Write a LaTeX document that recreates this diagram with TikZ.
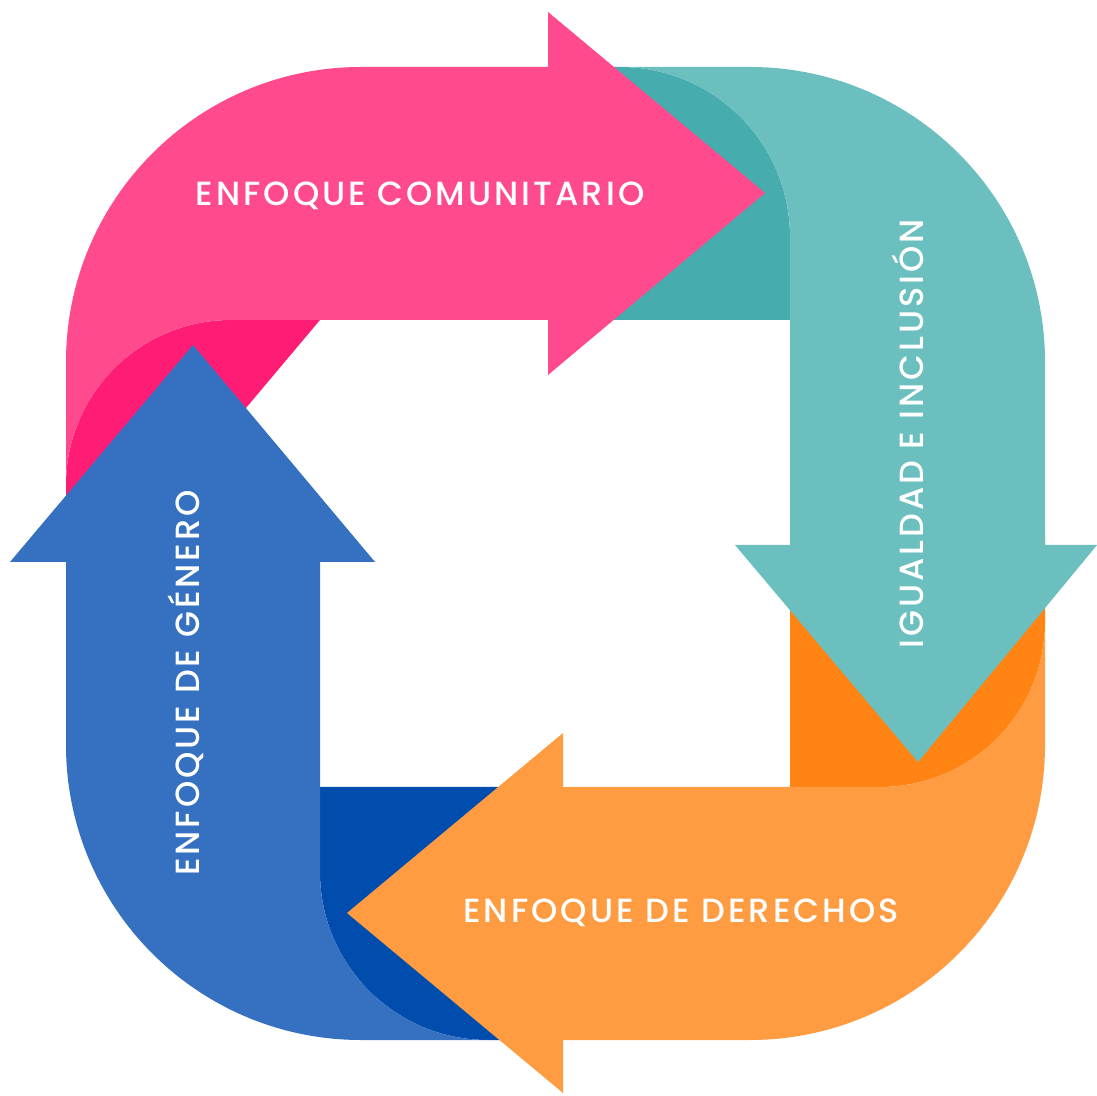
\documentclass[tikz,border=0pt]{standalone}
\usepackage{fontspec}
\setmainfont{Poppins}[UprightFont=* Medium, LetterSpace=9]
\definecolor{pinkL}{HTML}{FF4A8D}
\definecolor{pinkD}{HTML}{FF1C75}
\definecolor{tealL}{HTML}{6BBFBF}
\definecolor{tealD}{HTML}{47ACAE}
\definecolor{orangeL}{HTML}{FF9C42}
\definecolor{orangeD}{HTML}{FF8414}
\definecolor{blueL}{HTML}{3571C0}
\definecolor{blueD}{HTML}{004DAE}
\tikzset{lbl/.style={text=white, inner sep=0pt, anchor=base,
  font=\fontsize{33.5}{40}\selectfont}}
\begin{document}
\begin{tikzpicture}[x=1pt,y=1pt]
\useasboundingbox (0,0) rectangle (1097,1095);
% dark inner pieces
\fill [pinkD] (66,610) arc[start angle=180,end angle=90,radius=165] -- (320,775) -- (66,473) -- cycle;
\fill [tealD] (560,1028) -- (620,1028) arc[start angle=90,end angle=0,radius=170] -- (790,775) -- (560,775) -- cycle;
\fill [orangeD] (790,308) -- (880,308) arc[start angle=-90,end angle=0,radius=165] -- (1045,560) -- (790,560) -- cycle;
\fill [blueD] (320,308) -- (510,308) -- (510,55) -- (488,55) arc[start angle=270,end angle=180,radius=168] -- cycle;

% bands
\fill [pinkL] (548,1028) -- (361,1028) arc[start angle=90,end angle=180,radius=295] -- (66,610)
  arc[start angle=180,end angle=90,radius=165] -- (548,775) -- cycle;
\fill [tealL] (620,1028) -- (750,1028) arc[start angle=90,end angle=0,radius=295] -- (1045,550) -- (790,550)
  -- (790,858) arc[start angle=0,end angle=90,radius=170] -- cycle;
\fill [orangeL] (563,55) -- (750,55) arc[start angle=-90,end angle=0,radius=295] -- (1045,473)
  arc[start angle=0,end angle=-90,radius=165] -- (563,308) -- cycle;
\fill [blueL] (66,533) -- (66,350) arc[start angle=180,end angle=270,radius=295] -- (488,55)
  arc[start angle=270,end angle=180,radius=168] -- (320,533) -- cycle;

% arrow heads
\fill [pinkL] (548,1083) -- (765,902) -- (548,720) -- cycle;
\fill [tealL] (735,550) -- (1097,550) -- (918,333) -- cycle;
\fill [orangeL] (563,362) -- (347,182) -- (563,2) -- cycle;
\fill [blueL] (10,533) -- (193,750) -- (375,533) -- cycle;

\node [lbl] (comunitario) at (420,889) {ENFOQUE COMUNITARIO};
\node [lbl, rotate=90] (igualdad) at (923,661) {IGUALDAD E INCLUSIÓN};
\node [lbl] (derechos) at (681,172) {ENFOQUE DE DERECHOS};
\node [lbl, rotate=90] (genero) at (199,412) {ENFOQUE DE GÉNERO};
\end{tikzpicture}
\end{document}
